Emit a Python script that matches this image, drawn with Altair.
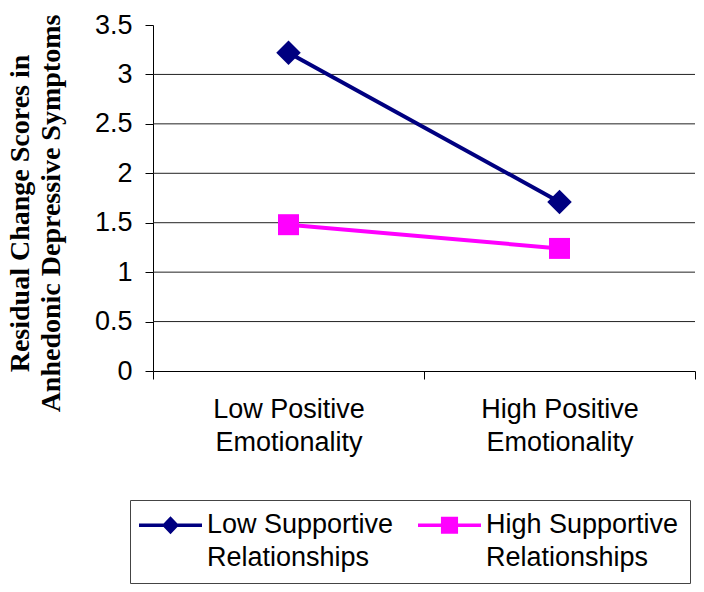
import altair as alt
import pandas as pd

# ---- data ----
categories = ["Low Positive Emotionality", "High Positive Emotionality"]
series = ["Low Supportive Relationships", "High Supportive Relationships"]
low_support = [3.22, 1.71]
high_support = [1.48, 1.24]
y_ticks = [0, 0.5, 1, 1.5, 2, 2.5, 3, 3.5]
grid_values = [0.5, 1, 1.5, 2, 2.5, 3]
y_title = ["Residual Change Scores in", "Anhedonic Depressive Symptoms"]
colors = ["#000080", "#FF00FF"]

rows = []
for s, vals in zip(series, [low_support, high_support]):
    for i, (c, v) in enumerate(zip(categories, vals)):
        rows.append({"category": c, "pos": i + 0.5, "series": s, "value": v})
df = pd.DataFrame(rows)
grid_df = pd.DataFrame({"value": grid_values})

n = len(categories)
x_values = sorted([float(i) for i in range(n + 1)] + [i + 0.5 for i in range(n)])
label_expr = ""
for i, c in enumerate(categories):
    first, last = c.rsplit(" ", 1)
    label_expr += f"datum.value == {i + 0.5} ? ['{first}', '{last}'] : "
label_expr += "''"

x_enc = alt.X(
    "pos:Q",
    scale=alt.Scale(domain=[0, n], nice=False, zero=False),
    axis=alt.Axis(
        title=None, values=x_values, labelAngle=0, tickSize=8,
        tickOpacity={"condition": {"test": "datum.value % 1 === 0", "value": 1}, "value": 0},
        tickColor="black", domainColor="black", labelFont="Liberation Sans",
        labelFontSize=27, labelColor="black", labelLineHeight=33, labelPadding=17,
        labelLimit=400, labelOverlap=False, labelExpr=label_expr, grid=False,
    ),
)
y_scale = alt.Scale(domain=[0, 3.5], nice=False, zero=True)
y_axis = alt.Axis(
    values=y_ticks, format=".1~f", grid=False, tickSize=8, tickColor="black",
    domainColor="black", labelFont="Liberation Sans", labelFontSize=27,
    labelColor="black", labelPadding=13,
    title=y_title, titleFont="Liberation Serif", titleFontWeight="bold",
    titleFontSize=28, titleColor="black", titleAngle=270, titleAlign="center",
    titleBaseline="top", titleLineHeight=31, titleX=-147, titleY=188,
)
y_enc = alt.Y("value:Q", scale=y_scale, axis=y_axis)

grid = alt.Chart(grid_df).mark_rule(color="#222222", strokeWidth=1).encode(y=y_enc)

color_scale = alt.Scale(domain=series, range=colors)

lines = alt.Chart(df).mark_line(strokeWidth=4).encode(
    x=x_enc, y=y_enc,
    color=alt.Color("series:N", scale=color_scale, legend=None),
)

points = alt.Chart(df).mark_point(filled=True, opacity=1).encode(
    x=x_enc, y=y_enc,
    color=alt.Color("series:N", scale=color_scale, legend=None),
    shape=alt.Shape("series:N", scale=alt.Scale(domain=series, range=["diamond", "square"]),
                    legend=None),
    size=alt.Size("series:N", scale=alt.Scale(domain=series, range=[600, 440]),
                  legend=None),
)

# legend glyphs: a line segment with the series marker on it (unit = symbol radius)
legend_paths = [
    "M-3.5,-0.19H3.5V0.19H-3.5Z M0,-1L0.95,0L0,1L-0.95,0Z",
    "M-3.5,-0.19H3.5V0.19H-3.5Z M-0.95,-0.95H0.95V0.95H-0.95Z",
]
legend_def = alt.Legend(
    title=None, orient="none", legendX=-23, legendY=475, direction="horizontal",
    symbolSize=324, symbolStrokeWidth=0, symbolOpacity=1, symbolOffset=15.5,
    labelFont="Liberation Sans", labelFontSize=27, labelColor="black",
    labelLimit=400, labelOffset=23, columnPadding=24, padding=11.5,
    strokeColor="#444444", fillColor="white",
    labelExpr="[slice(datum.label, 0, lastindexof(datum.label, ' ')), "
              "slice(datum.label, lastindexof(datum.label, ' ') + 1)]",
)
legend_layer = alt.Chart(df).mark_point(filled=True, opacity=0).encode(
    x=x_enc, y=y_enc,
    color=alt.Color("series:N", scale=color_scale, legend=legend_def),
    shape=alt.Shape("series:N", scale=alt.Scale(domain=series, range=legend_paths),
                    legend=legend_def),
)

chart = alt.layer(grid, lines, points, legend_layer).resolve_scale(
    shape="independent", color="independent"
).properties(
    width=542, height=346,
    autosize=alt.AutoSizeParams(type="none"),
    padding={"left": 145, "top": 17, "right": 1, "bottom": 218},
).configure(
    style={"guide-label": {"lineHeight": 33}}
).configure_view(stroke=None).configure_axis(domainWidth=1, tickWidth=1)

chart.save("out.html", embed_options={"renderer": "svg", "actions": False})
